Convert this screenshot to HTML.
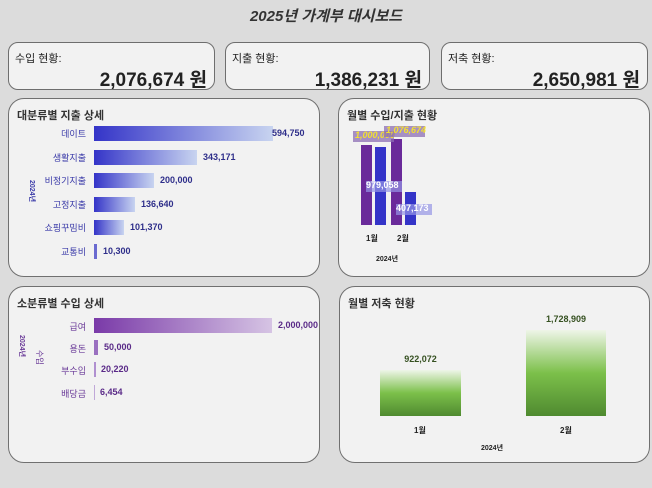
<!DOCTYPE html>
<html><head><meta charset="utf-8"><style>
*{margin:0;padding:0;box-sizing:border-box}
body{width:652px;height:488px;background:#dcdcdc;position:relative;overflow:hidden;font-family:"Liberation Sans","Noto Sans CJK KR",sans-serif;color:#222}
.a{position:absolute;white-space:nowrap}
.box{position:absolute;background:#f2f2f2;border:1px solid #6e6e6e;border-radius:10px}
.pan{position:absolute;background:#f2f2f2;border:1px solid #707070;border-radius:16px}
.kl{font-size:11px}
.kv{font-size:19px;font-weight:bold;text-align:right}
.pt{font-size:11px;font-weight:bold;color:#333}
.bl{font-size:9px;color:#3a3aa8;text-align:right;width:70px}
.bv{font-size:9px;color:#2e2e8a;font-weight:bold}
.blu{position:absolute;height:15px;background:linear-gradient(90deg,#3434c8,#c8d4f0)}
.pu{position:absolute;height:15px;background:linear-gradient(90deg,#7a3aa8,#d6c4e4)}
.pl{font-size:9px;color:#6a3a98;text-align:right;width:70px}
.pv{font-size:9px;color:#5a2a88;font-weight:bold}
</style></head><body>
<div class="a" style="left:0;width:652px;text-align:center;top:5px;font-size:15px;font-weight:bold;font-style:italic;color:#333">2025년 가계부 대시보드</div>

<div class="box" style="left:8px;top:42px;width:207px;height:48px"></div>
<div class="a kl" style="left:15px;top:50px">수입 현황:</div>
<div class="a kv" style="left:8px;width:199px;top:65px">2,076,674 원</div>
<div class="box" style="left:225px;top:42px;width:205px;height:48px"></div>
<div class="a kl" style="left:232px;top:50px">지출 현황:</div>
<div class="a kv" style="left:225px;width:197px;top:65px">1,386,231 원</div>
<div class="box" style="left:441px;top:42px;width:207px;height:48px"></div>
<div class="a kl" style="left:448px;top:50px">저축 현황:</div>
<div class="a kv" style="left:441px;width:199px;top:65px">2,650,981 원</div>

<div class="pan" style="left:8px;top:98px;width:312px;height:179px"></div>
<div class="a pt" style="left:17px;top:107px">대분류별 지출 상세</div>
<div class="a" style="left:37px;top:180px;font-size:7px;font-weight:bold;color:#3a3aa8;transform:rotate(90deg);transform-origin:0 0">2024년</div>
<div class="a bl" style="left:16px;top:127px">데이트</div><div class="blu" style="left:94px;top:126px;width:179px"></div><div class="a bv" style="left:272px;top:128px">594,750</div>
<div class="a bl" style="left:16px;top:151px">생활지출</div><div class="blu" style="left:94px;top:150px;width:103px"></div><div class="a bv" style="left:203px;top:152px">343,171</div>
<div class="a bl" style="left:16px;top:174px">비정기지출</div><div class="blu" style="left:94px;top:173px;width:60px"></div><div class="a bv" style="left:160px;top:175px">200,000</div>
<div class="a bl" style="left:16px;top:198px">고정지출</div><div class="blu" style="left:94px;top:197px;width:41px"></div><div class="a bv" style="left:141px;top:199px">136,640</div>
<div class="a bl" style="left:16px;top:221px">쇼핑꾸밈비</div><div class="blu" style="left:94px;top:220px;width:30px"></div><div class="a bv" style="left:130px;top:222px">101,370</div>
<div class="a bl" style="left:16px;top:245px">교통비</div><div class="blu" style="left:94px;top:244px;width:3px;background:#6a6ad0"></div><div class="a bv" style="left:103px;top:246px">10,300</div>

<div class="pan" style="left:338px;top:98px;width:312px;height:179px"></div>
<div class="a pt" style="left:347px;top:107px">월별 수입/지출 현황</div>
<div class="a" style="left:361px;top:145px;width:11px;height:80px;background:#6a2a9a"></div>
<div class="a" style="left:375px;top:147px;width:11px;height:78px;background:#3434c8"></div>
<div class="a" style="left:391px;top:139px;width:11px;height:86px;background:#6a2a9a"></div>
<div class="a" style="left:405px;top:192px;width:11px;height:33px;background:#3434c8"></div>
<div class="a" style="left:353px;top:131px;width:41px;height:11px;background:rgba(140,110,180,.75)"></div>
<div class="a" style="left:355px;top:130px;font-size:9px;font-weight:bold;font-style:italic;color:#f2e030">1,000,000</div>
<div class="a" style="left:384px;top:126px;width:41px;height:11px;background:rgba(140,110,180,.75)"></div>
<div class="a" style="left:386px;top:125px;font-size:9px;font-weight:bold;font-style:italic;color:#f2e030">1,076,674</div>
<div class="a" style="left:366px;top:181px;width:36px;height:11px;background:rgba(150,150,230,.7)"></div>
<div class="a" style="left:366px;top:180px;font-size:9px;font-weight:bold;color:#fff">979,058</div>
<div class="a" style="left:396px;top:204px;width:36px;height:11px;background:rgba(150,150,230,.7)"></div>
<div class="a" style="left:396px;top:203px;font-size:9px;font-weight:bold;color:#fff">407,173</div>
<div class="a" style="left:366px;top:233px;font-size:8px;font-weight:bold">1월</div>
<div class="a" style="left:397px;top:233px;font-size:8px;font-weight:bold">2월</div>
<div class="a" style="left:376px;top:254px;font-size:7px;font-weight:bold">2024년</div>

<div class="pan" style="left:8px;top:286px;width:312px;height:177px"></div>
<div class="a pt" style="left:17px;top:295px">소분류별 수입 상세</div>
<div class="a" style="left:27px;top:335px;font-size:7px;font-weight:bold;color:#6a3a98;transform:rotate(90deg);transform-origin:0 0">2024년</div>
<div class="a" style="left:45px;top:350px;font-size:8px;color:#6a3a98;transform:rotate(90deg);transform-origin:0 0">수입</div>
<div class="a pl" style="left:16px;top:320px">급여</div><div class="pu" style="left:94px;top:318px;width:178px"></div><div class="a pv" style="left:278px;top:320px">2,000,000</div>
<div class="a pl" style="left:16px;top:342px">용돈</div><div class="pu" style="left:94px;top:340px;width:4px;background:#9a70c0"></div><div class="a pv" style="left:104px;top:342px">50,000</div>
<div class="a pl" style="left:16px;top:364px">부수입</div><div class="pu" style="left:94px;top:362px;width:2px;background:#b090d0"></div><div class="a pv" style="left:101px;top:364px">20,220</div>
<div class="a pl" style="left:16px;top:387px">배당금</div><div class="pu" style="left:94px;top:385px;width:1px;background:#c0a8d8"></div><div class="a pv" style="left:100px;top:387px">6,454</div>

<div class="pan" style="left:339px;top:286px;width:311px;height:177px"></div>
<div class="a pt" style="left:348px;top:295px">월별 저축 현황</div>
<div class="a" style="left:380px;top:370px;width:81px;height:46px;background:linear-gradient(180deg,#eef5e8,#7cc04a 50%,#4f8a30)"></div>
<div class="a" style="left:526px;top:330px;width:80px;height:86px;background:linear-gradient(180deg,#eef5e8,#7cc04a 50%,#4f8a30)"></div>
<div class="a" style="left:380px;width:81px;text-align:center;top:354px;font-size:9px;font-weight:bold;color:#355020">922,072</div>
<div class="a" style="left:526px;width:80px;text-align:center;top:314px;font-size:9px;font-weight:bold;color:#355020">1,728,909</div>
<div class="a" style="left:414px;top:425px;font-size:8px;font-weight:bold">1월</div>
<div class="a" style="left:560px;top:425px;font-size:8px;font-weight:bold">2월</div>
<div class="a" style="left:481px;top:443px;font-size:7px;font-weight:bold">2024년</div>
</body></html>
